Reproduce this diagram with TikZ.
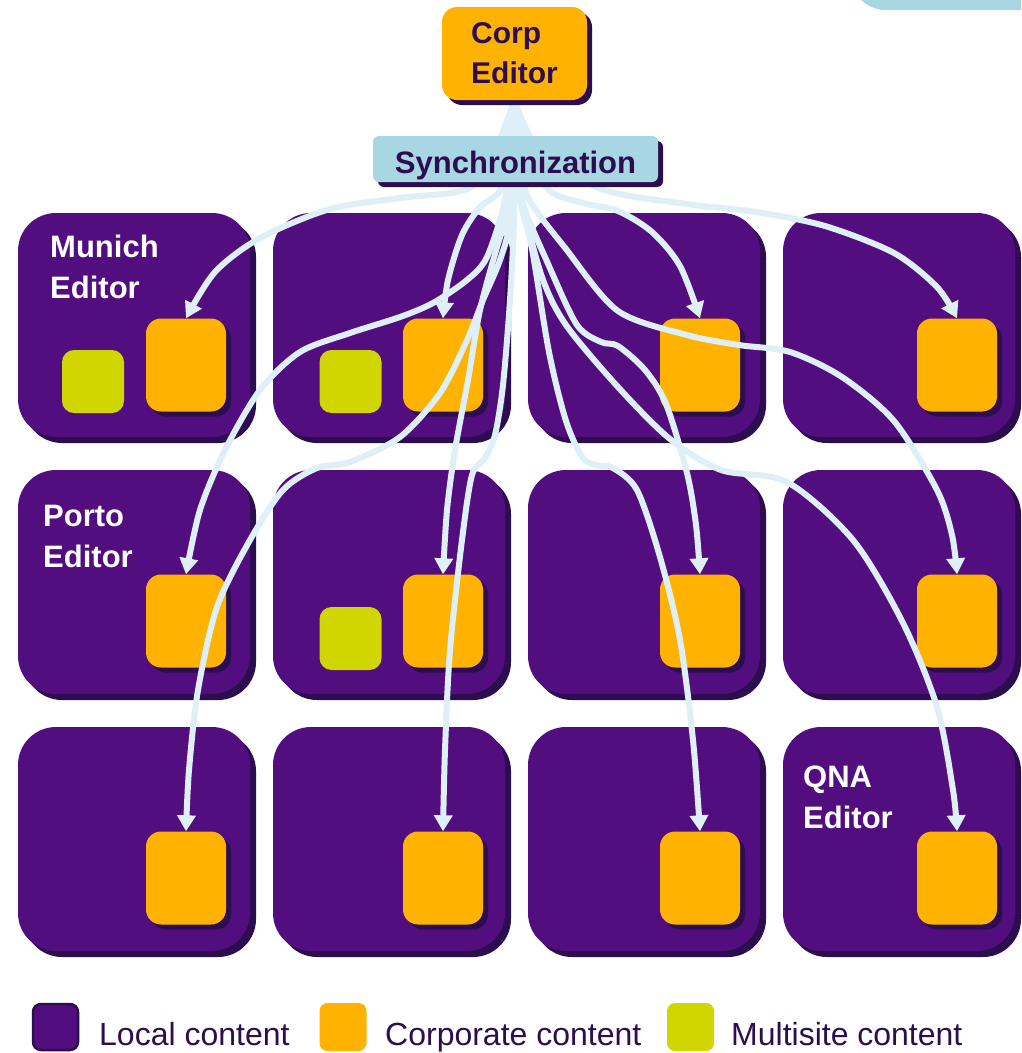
\documentclass[tikz,border=0pt]{standalone}
\usepackage{fontspec}
\setmainfont{Liberation Sans}
\usetikzlibrary{arrows.meta,shadows}
\definecolor{cellpurple}{HTML}{520E7E}
\definecolor{shadowc}{HTML}{2C0D4F}
\definecolor{corporange}{HTML}{FFB300}
\definecolor{multigreen}{HTML}{D1D600}
\definecolor{syncblue}{HTML}{A9D6E3}
\definecolor{arrowc}{HTML}{DEEFF8}
\definecolor{textdark}{HTML}{2C0D4F}
\begin{document}
\begin{tikzpicture}[x=1pt,y=-1pt,
  cell/.style={fill=cellpurple, rounded corners=38pt, minimum width=232pt, minimum height=224pt, inner sep=0pt,
    general shadow={fill=shadowc, shadow xshift=6pt, shadow yshift=-6pt}},
  corpbox/.style={fill=corporange, rounded corners=15pt, minimum width=80pt, minimum height=93pt, inner sep=0pt,
    general shadow={fill=shadowc, shadow xshift=5pt, shadow yshift=-5pt}},
  multibox/.style={fill=multigreen, rounded corners=12pt, minimum width=62pt, minimum height=63pt, inner sep=0pt},
  celllabel/.style={text=white, font=\bfseries\fontsize{31}{41}\selectfont, align=left, inner sep=0pt, anchor=north west},
  syncarrow/.style={draw=arrowc, line width=6pt, -{Triangle[width=18pt,length=16pt]}},
  legendtext/.style={text=textdark, font=\fontsize{32}{38}\selectfont, inner sep=0pt, anchor=base west}
]
\useasboundingbox (0,0) rectangle (1021,1053);
\fill[white] (0,0) rectangle (1021,1053);
% corner shape top right
\begin{scope}
\clip (0,0) rectangle (1021,1053);
\fill[syncblue, rounded corners=36pt] (850,-80) rectangle (1120,10);
\end{scope}
% cells
\foreach \r/\y in {1/325,2/582,3/839}{
  \foreach \c/\x in {1/134,2/389,3/644,4/899}{
    \node[cell] (c\r\c) at (\x,\y) {};
  }
}
% corporate boxes
\foreach \r/\y in {1/365,2/621,3/878}{
  \foreach \c/\x in {1/186,2/443,3/700,4/957}{
    \node[corpbox] (o\r\c) at (\x,\y) {};
  }
}
% multisite boxes
\node[multibox] (m11) at (93,381.5) {};
\node[multibox] (m12) at (350.5,381.5) {};
\node[multibox] (m22) at (350.5,638.5) {};
% labels
\node[celllabel] (munich) at (50,235) {Munich\\Editor};
\node[celllabel] (porto) at (43,505) {Porto\\Editor};
\node[celllabel] (qna) at (803,766) {QNA\\Editor};
% corp editor position helper
\coordinate (src) at (514.5,100);
% synchronization arrows
\draw[syncarrow] plot[smooth] coordinates {(src) (496,148) (470,188) (400,198) (330,209) (260,238) (215,272) (o11.north)};
\draw[syncarrow] plot[smooth] coordinates {(src) (503,148) (500,190) (480,207) (462,235) (448,280) (o12.north)};
\draw[syncarrow] plot[smooth] coordinates {(src) (528,148) (549,190) (583,203) (618,211) (652,232) (680,266) (o13.north)};
\draw[syncarrow] plot[smooth] coordinates {(src) (538,148) (601,189) (687,204) (756,212) (825,226) (894,253) (937,287) (o14.north)};
\draw[syncarrow] plot[smooth] coordinates {(src) (507,148) (505,200) (487,257) (467,280) (433,303) (400,317) (350,333) (300,352) (260,390) (225,450) (200,510) (o21.north)};
\draw[syncarrow] plot[smooth] coordinates {(src) (511,148) (508,210) (497,247) (480,310) (468,380) (455,450) (447,510) (o22.north)};
\draw[syncarrow] plot[smooth] coordinates {(src) (520,148) (522,200) (549,266) (577,325) (601,342) (618,346) (645,370) (666,404) (687,473) (696,525) (o23.north)};
\draw[syncarrow] plot[smooth] coordinates {(src) (524,148) (527,195) (566,249) (618,311) (687,335) (739,345) (790,352) (842,377) (894,421) (937,490) (952,535) (o24.north)};
\draw[syncarrow] plot[smooth] coordinates {(src) (509,148) (510,220) (500,260) (483,300) (467,340) (440,393) (400,437) (350,462) (317,468) (283,490) (250,540) (217,607) (198,690) (189,770) (o31.north)};
\draw[syncarrow] plot[smooth] coordinates {(src) (514,148) (514,220) (510,300) (503,385) (495,435) (485,458) (472,475) (462,540) (450,650) (445,750) (o32.north)};
\draw[syncarrow] plot[smooth] coordinates {(src) (517,148) (520,200) (532,249) (549,352) (566,421) (583,458) (600,466) (613,468) (637,490) (660,557) (680,640) (693,740) (o33.north)};
\draw[syncarrow] plot[smooth] coordinates {(src) (518,148) (522,200) (542,277) (566,325) (618,387) (670,439) (721,470) (787,482) (853,540) (903,623) (937,707) (953,790) (o34.north)};
% corp editor and synchronization
\node[fill=corporange, rounded corners=15pt, minimum width=145pt, minimum height=93pt, inner sep=0pt,
  general shadow={fill=shadowc, shadow xshift=5pt, shadow yshift=-5pt},
  text=textdark, font=\bfseries\fontsize{30}{40}\selectfont, align=left] (corp) at (514.5,53.5) {Corp\\Editor};
\node[fill=syncblue, rounded corners=6pt, minimum width=285pt, minimum height=46pt, inner sep=0pt,
  text height=28pt, text depth=0pt,
  general shadow={fill=shadowc, shadow xshift=5pt, shadow yshift=-5pt},
  text=textdark, font=\bfseries\fontsize{31}{38}\selectfont] (sync) at (515.5,159) {Synchronization};
% legend
\node[fill=cellpurple, draw=shadowc, line width=2.5pt, rounded corners=8pt, minimum width=45pt, minimum height=46pt, inner sep=0pt] (leglocal) at (55.5,1027) {};
\node[fill=corporange, rounded corners=8pt, minimum width=47pt, minimum height=48pt, inner sep=0pt] (legcorp) at (343,1027) {};
\node[fill=multigreen, rounded corners=8pt, minimum width=47pt, minimum height=48pt, inner sep=0pt] (legmulti) at (690.5,1027) {};
\node[legendtext] (legtl) at (99,1045) {Local content};
\node[legendtext] (legtc) at (385,1045) {Corporate content};
\node[legendtext] (legtm) at (731,1045) {Multisite content};
\end{tikzpicture}
\end{document}
